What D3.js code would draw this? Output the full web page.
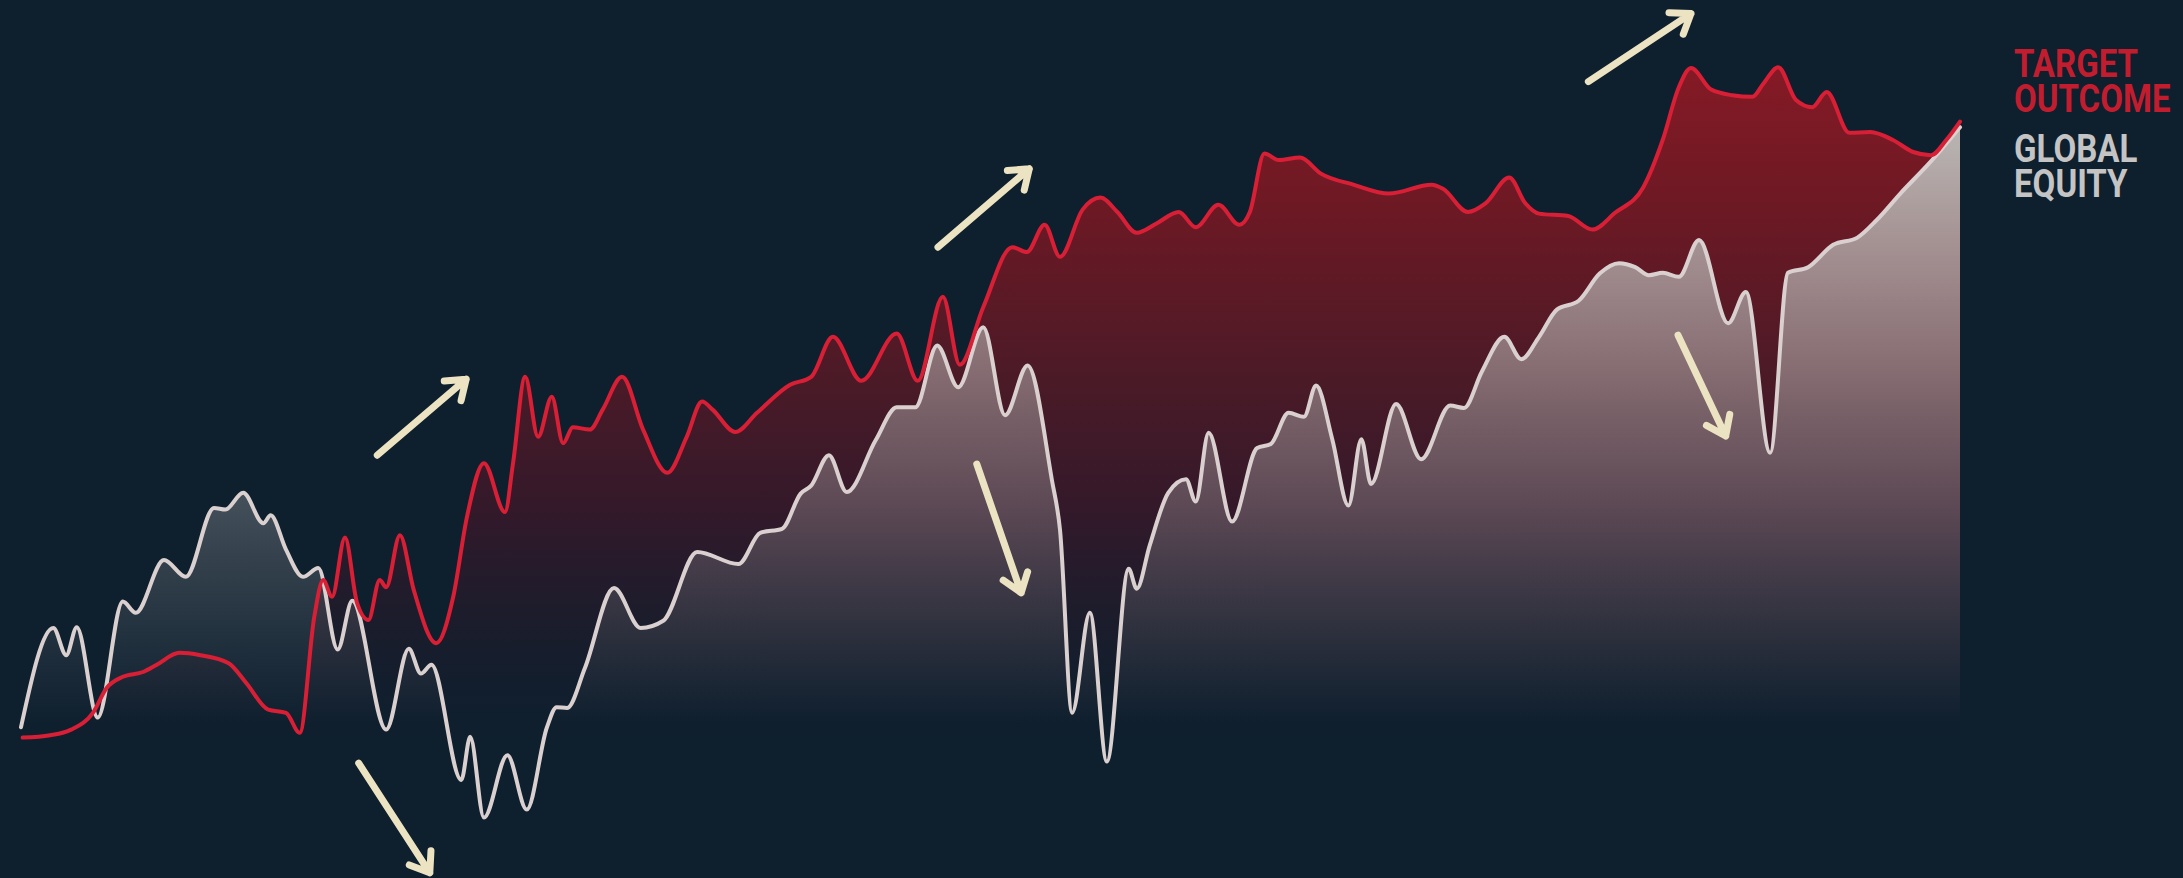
<!DOCTYPE html>
<html>
<head>
<meta charset="utf-8">
<script src="https://cdn.jsdelivr.net/npm/d3@7"></script>
<style>
  html, body { margin: 0; padding: 0; background: #0e1f2e; overflow: hidden; }
  svg { display: block; }
</style>
</head>
<body>
<svg id="chart" width="2183" height="878"></svg>
<script>
// Months since start of the period (0–240) and indexed performance values.
const targetMonths = [0.2, 3.6, 6.2, 8.9, 10.6, 12.6, 15.1, 16.8, 19.6, 22.2, 25.7, 27.9, 30.6, 32.8, 34.5, 36.3, 37.4, 38.5, 40.1, 41.6, 43.0, 44.4, 45.2, 46.9, 48.6, 51.4, 53.5, 55.2, 57.3, 59.9, 60.9, 62.4, 64.0, 65.7, 67.1, 68.3, 70.4, 72.0, 74.4, 77.0, 80.0, 82.4, 84.3, 85.6, 88.4, 91.1, 95.2, 97.8, 100.5, 104.0, 108.4, 111.0, 114.1, 116.2, 119.1, 122.7, 124.5, 126.7, 128.6, 131.4, 133.6, 135.7, 138.1, 140.6, 143.3, 145.4, 148.2, 150.8, 152.1, 153.9, 155.7, 158.3, 160.9, 165.0, 169.3, 174.6, 176.0, 179.1, 181.3, 184.2, 186.2, 187.9, 191.5, 194.5, 197.3, 200.8, 203.2, 205.2, 206.7, 209.2, 211.8, 214.3, 215.7, 217.5, 219.7, 221.7, 223.5, 226.3, 228.9, 231.7, 234.2, 236.4, 238.3, 240.0];
const targetValues = [12.8, 13.1, 13.8, 15.9, 19.0, 20.4, 21.0, 21.9, 23.4, 23.1, 22.1, 19.6, 16.3, 15.9, 13.4, 27.9, 32.5, 30.4, 37.8, 29.6, 27.5, 32.5, 31.6, 38.1, 31.3, 24.6, 30.4, 40.4, 47.1, 41.0, 47.1, 57.9, 50.4, 55.4, 49.6, 51.6, 51.3, 53.8, 57.9, 51.3, 45.9, 50.4, 54.8, 53.8, 51.0, 53.4, 56.9, 57.9, 62.9, 57.4, 63.3, 57.4, 67.9, 59.4, 66.6, 74.1, 73.5, 76.9, 72.9, 78.8, 80.3, 78.5, 75.9, 77.1, 78.5, 76.6, 79.4, 76.9, 78.5, 85.8, 85.0, 85.3, 83.3, 81.9, 80.8, 81.9, 81.4, 78.5, 79.6, 82.8, 79.6, 78.3, 78.0, 76.3, 78.4, 81.6, 87.5, 94.1, 96.5, 93.8, 93.1, 92.9, 94.6, 96.6, 92.5, 91.6, 93.5, 88.4, 88.5, 87.5, 86.0, 85.6, 87.5, 89.8];

const equityMonths = [0.0, 4.0, 5.6, 6.9, 9.5, 12.6, 14.2, 17.7, 20.4, 23.9, 25.3, 27.5, 30.0, 30.9, 32.8, 34.9, 36.8, 39.2, 41.0, 45.2, 48.0, 49.5, 50.8, 54.5, 55.6, 57.3, 60.2, 62.6, 65.1, 66.3, 67.6, 69.8, 73.4, 76.7, 79.5, 83.7, 88.8, 91.5, 94.2, 96.5, 97.8, 100.0, 102.2, 105.8, 108.4, 110.7, 113.4, 116.0, 119.1, 121.8, 124.6, 127.6, 128.6, 130.1, 132.3, 134.4, 137.1, 138.1, 139.7, 142.0, 144.2, 145.4, 147.0, 149.9, 153.0, 154.7, 156.9, 158.8, 160.3, 162.3, 164.3, 165.9, 167.1, 170.2, 173.3, 176.9, 178.6, 180.8, 183.6, 185.7, 187.9, 190.1, 192.8, 195.4, 197.8, 199.8, 201.5, 203.2, 205.2, 207.7, 211.3, 213.5, 216.5, 218.7, 221.2, 224.3, 227.3, 229.7, 232.7, 236.2, 240.0];
const equityValues = [14.1, 26.5, 23.1, 26.6, 15.3, 29.8, 28.4, 35.0, 32.9, 41.5, 41.3, 43.4, 39.6, 40.6, 36.3, 32.9, 34.0, 23.8, 29.9, 13.8, 23.9, 20.8, 21.9, 7.5, 12.9, 2.8, 10.6, 3.8, 14.1, 16.6, 16.5, 21.5, 31.5, 26.5, 27.4, 36.0, 34.5, 38.4, 38.9, 43.3, 44.3, 48.1, 43.5, 50.0, 54.1, 54.1, 61.8, 56.6, 64.1, 53.1, 59.3, 45.0, 38.8, 15.9, 28.4, 9.8, 33.9, 31.4, 36.8, 43.4, 45.1, 42.3, 50.9, 39.8, 49.0, 49.5, 53.4, 52.9, 56.8, 50.1, 41.8, 50.1, 44.5, 54.5, 47.6, 54.3, 54.0, 58.5, 62.9, 60.1, 62.9, 66.3, 67.4, 70.8, 72.1, 71.6, 70.6, 70.9, 70.4, 75.0, 64.6, 68.5, 48.4, 70.9, 71.6, 74.4, 75.3, 77.5, 80.9, 84.6, 89.1];

// Legend entries, one per series, each split over two lines.
const legendLines = [["TARGET", "OUTCOME"], ["GLOBAL", "EQUITY"]];
const legendColors = ["#c21d2e", "#c4c4c4"];

// Trend annotations: start and end in (month, value) units.
const arrowStarts = [[44.1, 48.1], [41.8, 9.6], [113.5, 74.1], [118.3, 47.0], [194.0, 94.8], [205.1, 63.1]];
const arrowEnds   = [[55.1, 57.6], [50.6, -4.1], [124.8, 83.9], [123.8, 30.9], [206.7, 103.3], [211.0, 50.5]];

const target = targetMonths.map((m, i) => ({ m, v: targetValues[i] }));
const equity = equityMonths.map((m, i) => ({ m, v: equityValues[i] }));

const svg = d3.select("#chart");
const W = 2183, H = 878;

const x = d3.scaleLinear().domain([0, 240]).range([21, 1960]);
const y = d3.scaleLinear().domain([0, 100]).range([840, 40]);

svg.append("rect").attr("width", W).attr("height", H).attr("fill", "#0e1f2e");

const defs = svg.append("defs");

function verticalGradient(id, stops) {
  const g = defs.append("linearGradient")
    .attr("id", id)
    .attr("gradientUnits", "userSpaceOnUse")
    .attr("x1", 0).attr("x2", 0)
    .attr("y1", y(97.5)).attr("y2", y(10));
  stops.forEach(s => g.append("stop")
    .attr("offset", s[0]).attr("stop-color", s[1]).attr("stop-opacity", s[2]));
}

verticalGradient("targetFill", [
  [0.00, "#861a25", 1],
  [0.20, "#6e1924", 1],
  [0.45, "#4c1a27", 1],
  [0.65, "#32192a", 1],
  [0.85, "#1c1c2b", 0.6],
  [1.00, "#0e1f2e", 0]
]);

verticalGradient("equityFill", [
  [0.00, "#bfc6c2", 0.93],
  [0.11, "#bfc6c2", 0.89],
  [0.27, "#bec3c0", 0.70],
  [0.51, "#bdbfbd", 0.42],
  [0.71, "#bdbcbc", 0.22],
  [0.86, "#bdbcbc", 0.08],
  [0.95, "#bdbcbc", 0]
]);

const curve = d3.curveMonotoneX;

const area = d3.area()
  .x(d => x(d.m))
  .y0(y(0))
  .y1(d => y(d.v))
  .curve(curve);

const line = d3.line()
  .x(d => x(d.m))
  .y(d => y(d.v))
  .curve(curve);

svg.append("path").datum(target).attr("d", area).attr("fill", "url(#targetFill)");
svg.append("path").datum(equity).attr("d", area).attr("fill", "url(#equityFill)");

svg.append("path").datum(equity).attr("d", line)
  .attr("fill", "none").attr("stroke", "#d9d0cf")
  .attr("stroke-width", 4).attr("stroke-linejoin", "round").attr("stroke-linecap", "round");

svg.append("path").datum(target).attr("d", line)
  .attr("fill", "none").attr("stroke", "#d91f35")
  .attr("stroke-width", 4).attr("stroke-linejoin", "round").attr("stroke-linecap", "round");

// Trend arrows with open chevron heads
const arrowData = arrowStarts.map((s, i) => ({ s, e: arrowEnds[i] }));
svg.append("g").selectAll("path")
  .data(arrowData)
  .join("path")
  .attr("d", d => {
    const x0 = x(d.s[0]), y0 = y(d.s[1]);
    const x1 = x(d.e[0]), y1 = y(d.e[1]);
    const a = Math.atan2(y1 - y0, x1 - x0);
    const len = 22, spread = Math.PI * 0.8;
    const hx1 = x1 + len * Math.cos(a + spread), hy1 = y1 + len * Math.sin(a + spread);
    const hx2 = x1 + len * Math.cos(a - spread), hy2 = y1 + len * Math.sin(a - spread);
    return `M${x0},${y0}L${x1},${y1}M${hx1},${hy1}L${x1},${y1}L${hx2},${hy2}`;
  })
  .attr("fill", "none")
  .attr("stroke", "#ebe3c1")
  .attr("stroke-width", 7)
  .attr("stroke-linecap", "round")
  .attr("stroke-linejoin", "round");

// Legend: one text block per series, two lines each
const legend = svg.append("g").attr("transform", "translate(2014,0)");
const firstBaselines = [77, 162];
legendLines.forEach((lines, i) => {
  const t = legend.append("text")
    .attr("transform", `translate(0,${firstBaselines[i]}) scale(0.87,1)`)
    .attr("font-family", "Roboto, 'Noto Sans', sans-serif")
    .attr("font-weight", 700)
    .attr("font-size", 38)
    .attr("fill", legendColors[i]);
  lines.forEach((txt, j) => {
    t.append("tspan")
      .attr("x", 0)
      .attr("y", j * 35)
      .text(txt);
  });
});
</script>
</body>
</html>
